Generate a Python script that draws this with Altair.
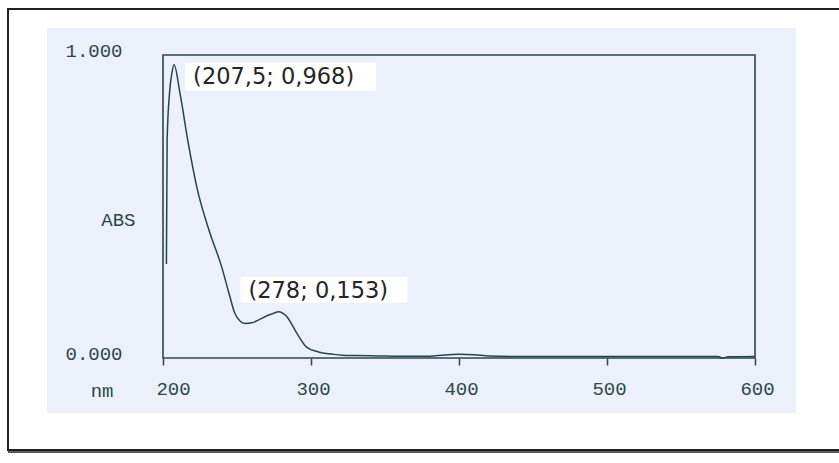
import altair as alt
import pandas as pd

# Spectrum values (wavelength nm, absorbance)
wavelength = [202.3, 202.8, 204.5, 206, 207.5, 211.5, 217.1, 222.8, 231.2, 239.7,
              244.1, 248.6, 252, 255.4, 260, 264.4, 271.1, 275, 278, 283.6,
              290.3, 297, 305, 314, 321, 330, 345, 360, 380, 390, 400, 410, 420,
              440, 470, 500, 540, 575, 578, 582, 600]
absorbance = [0.31, 0.72, 0.88, 0.94, 0.968, 0.873, 0.708, 0.565, 0.42, 0.30,
              0.222, 0.147, 0.122, 0.114, 0.116, 0.125, 0.141, 0.148, 0.153, 0.137,
              0.083, 0.036, 0.02, 0.013, 0.009, 0.008, 0.007, 0.006, 0.006, 0.01,
              0.012, 0.011, 0.007, 0.005, 0.005, 0.005, 0.005, 0.005, 0.0, 0.004,
              0.005]

x_ticks = [200, 300, 400, 500, 600]
y_ticks = [0, 1]

peak_nm = [207.5, 278]
peak_abs = [0.968, 0.153]
peak_labels = ["(207,5; 0,968)", "(278; 0,153)"]

INK = "#2b4749"
MONO = "Liberation Mono"

df = pd.DataFrame({"nm": wavelength, "abs": absorbance})
one = pd.DataFrame({"k": [0]})

xscale = alt.Scale(domain=[200, 600], nice=False, zero=False)
yscale = alt.Scale(domain=[0, 1], nice=False)

outer = alt.Chart(one).mark_rect(fill="white", stroke="#222222", strokeWidth=2).encode(
    x=alt.value(-155), x2=alt.value(700), y=alt.value(-46), y2=alt.value(395))
outer_line = alt.Chart(one).mark_rule(color="#222222", strokeWidth=1.5).encode(
    x=alt.value(-155), x2=alt.value(700), y=alt.value(397))
scan = alt.Chart(one).mark_rect(fill="#ebf0fa").encode(
    x=alt.value(-116), x2=alt.value(633), y=alt.value(-27), y2=alt.value(358))
frame = alt.Chart(one).mark_rect(fillOpacity=0, stroke=INK, strokeWidth=1.6).encode(
    x=alt.value(0), x2=alt.value("width"), y=alt.value(0), y2=alt.value("height"))

line = alt.Chart(df).mark_line(color="#24464a", strokeWidth=1.5, interpolate="monotone").encode(
    x=alt.X("nm:Q", scale=xscale,
            axis=alt.Axis(values=x_ticks, title="nm", titleX=-50, titleY=32,
                          titleAlign="right", titleBaseline="middle", titleAngle=0,
                          titleFont=MONO, titleFontSize=19, titleFontWeight="normal",
                          titleColor=INK, labelFont=MONO, labelFontSize=19,
                          labelColor=INK, tickSize=7, tickColor=INK, tickWidth=1.5,
                          domain=False, grid=False, labelPadding=23,
                          labelBaseline="middle", labelFlush=False, zindex=1,
                          labelOffset={"condition": {"test": "datum.value == 200", "value": 10},
                                       "value": 2})),
    y=alt.Y("abs:Q", scale=yscale,
            axis=alt.Axis(values=y_ticks, format=".3f", title="ABS", titleAngle=0,
                          titleX=-28, titleY=164, titleAlign="right",
                          titleBaseline="middle", titleFont=MONO, titleFontSize=19,
                          titleFontWeight="normal", titleColor=INK,
                          labelFont=MONO, labelFontSize=19, labelColor=INK,
                          ticks=False, domain=False, grid=False, labelPadding=41,
                          labelOffset=-5, labelBaseline="middle", labelFlush=False,
                          zindex=1)),
)

layers = [outer, outer_line, scan, frame, line]

box_offsets = [(11, 202, -2, 26), (-38, 129, -35, -9)]
text_offsets = [(19, 12), (-30, -21)]
for i in range(2):
    d = pd.DataFrame({"nm": [peak_nm[i]], "abs": [peak_abs[i]], "label": [peak_labels[i]]})
    x0, x1, y0, y1 = box_offsets[i]
    box = alt.Chart(d).mark_rect(fill="white", xOffset=x0, x2Offset=x1,
                                 yOffset=y0, y2Offset=y1).encode(
        x=alt.X("nm:Q", scale=xscale), x2="nm:Q",
        y=alt.Y("abs:Q", scale=yscale), y2="abs:Q")
    dx, dy = text_offsets[i]
    txt = alt.Chart(d).mark_text(font="DejaVu Sans", fontSize=22.5, color="#262626",
                                 align="left", baseline="middle", dx=dx, dy=dy).encode(
        x=alt.X("nm:Q", scale=xscale), y=alt.Y("abs:Q", scale=yscale), text="label:N")
    layers += [box, txt]

chart = alt.layer(*layers).properties(
    width=592, height=303,
    autosize=alt.AutoSizeParams(type="none"),
    padding={"left": 163, "top": 55, "right": 84, "bottom": 105},
    background="white",
).configure_view(stroke=None)

chart.save("out.html", embed_options={"renderer": "svg", "actions": False})
